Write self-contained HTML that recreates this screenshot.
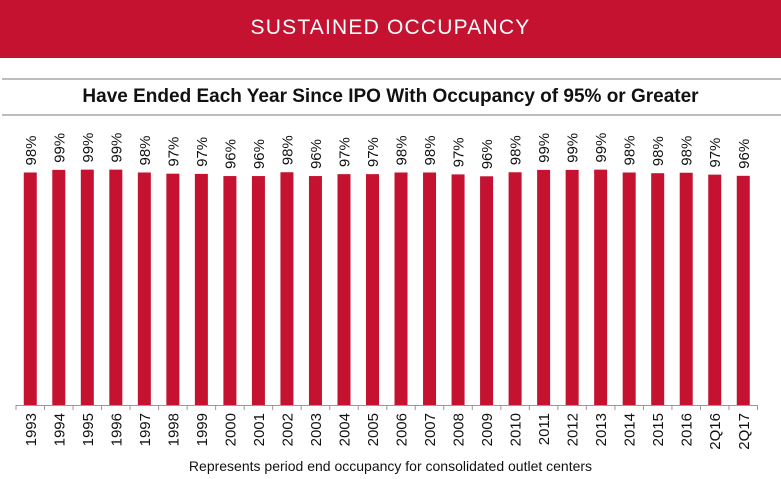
<!DOCTYPE html>
<html><head><meta charset="utf-8"><style>
body{margin:0;width:781px;height:479px;background:#fff;font-family:"Liberation Sans",sans-serif;overflow:hidden;position:relative}
#hdr{position:absolute;left:0;top:0;width:781px;height:58px;background:#c41230;color:#fff;font-size:21px;letter-spacing:1.2px;text-align:center;line-height:56px}
.rule{position:absolute;left:2px;width:779px;height:2px;background:#bdbdbd}
#title{position:absolute;left:0;top:86px;width:781px;text-align:center;font-weight:bold;font-size:19px;color:#111}
#foot{position:absolute;left:0;top:458px;width:781px;text-align:center;font-size:14px;color:#111}
svg{position:absolute;left:0;top:0}
</style></head><body>
<div id="hdr">SUSTAINED OCCUPANCY</div>
<div class="rule" style="top:78px"></div>
<div id="title">Have Ended Each Year Since IPO With Occupancy of 95% or Greater</div>
<div class="rule" style="top:114px"></div>
<svg id="chart" width="781" height="479"></svg>
<div id="foot">Represents period end occupancy for consolidated outlet centers</div>
<script>
const categories=["1993","1994","1995","1996","1997","1998","1999","2000","2001","2002","2003","2004","2005","2006","2007","2008","2009","2010","2011","2012","2013","2014","2015","2016","2Q16","2Q17"];
const values=[97.9,99.0,99.1,99.1,97.9,97.4,97.3,96.4,96.4,98.0,96.4,97.2,97.2,97.9,97.9,97.1,96.3,98.0,99.0,99.0,99.1,97.9,97.6,97.8,97.0,96.5];
const labels=["98%","99%","99%","99%","98%","97%","97%","96%","96%","98%","96%","97%","97%","98%","98%","97%","96%","98%","99%","99%","99%","98%","98%","98%","97%","96%"];
const svg=document.getElementById('chart');const NS='http://www.w3.org/2000/svg';
const x0=16,pitch=28.52,base=405,scale=2.375;
const xc=i=>x0+pitch*(i+0.5);const y=v=>base-v*scale;
function mk(t,a){const e=document.createElementNS(NS,t);for(const k in a)e.setAttribute(k,a[k]);svg.appendChild(e);return e;}
const ax=mk('line',{x1:x0,x2:x0+pitch*categories.length,y1:base+0.5,y2:base+0.5,stroke:'#999','stroke-width':1});


for(let i=0;i<=categories.length;i++){const t=mk('line',{x1:x0+pitch*i,x2:x0+pitch*i,y1:base,y2:base+5,stroke:'#999'});

}
categories.forEach((c,i)=>{
const r=mk('rect',{x:xc(i)-6.5,y:y(values[i]),width:13,height:base-y(values[i]),fill:'#c41230'});


const lx=xc(i)+5.5,ly=y(values[i])-7;
const l=mk('text',{x:lx,y:ly,transform:`rotate(-90 ${lx} ${ly})`,'font-size':15,fill:'#111'});l.textContent=labels[i];


const tx=xc(i)+5.5,ty=413;
const tl=mk('text',{x:tx,y:ty,transform:`rotate(-90 ${tx} ${ty})`,'font-size':15,fill:'#111','text-anchor':'end'});tl.textContent=c;


});
</script>
</body></html>
